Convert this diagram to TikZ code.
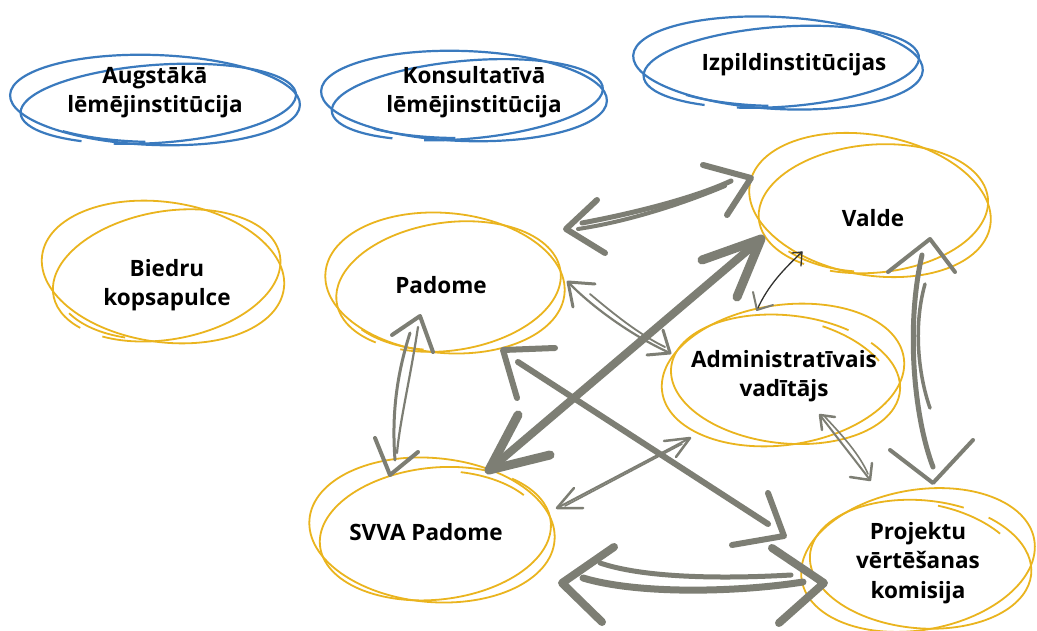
\documentclass[tikz,border=0pt]{standalone}
\usepackage{fontspec}
\setmainfont{Open Sans}
\definecolor{blu}{RGB}{58,122,190}
\definecolor{ylw}{RGB}{234,180,30}
\definecolor{gry}{RGB}{125,126,116}
\definecolor{dkg}{RGB}{50,50,48}
\newcommand\scribble[8]{%
  \pgfmathsetmacro\sra{#4-7}\pgfmathsetmacro\srb{#5-6}%
  \pgfmathsetmacro\src{#4-12}\pgfmathsetmacro\srd{#5-8}%
  \begin{scope}[shift={(#2,#3)}]
    \draw[#1,rotate=#6] (0,0) ellipse[x radius=#4pt,y radius=#5pt];
    \draw[#1,rotate=#7] ([shift={(#8:\sra pt and \srb pt)}]3,4) arc[start angle=#8,delta angle=345,x radius=\sra pt,y radius=\srb pt];
    \draw[#1,rotate=#7-4] ([shift={(#8-25:\src pt and \srd pt)}]2,5) arc[start angle=#8-25,delta angle=40,x radius=\src pt,y radius=\srd pt];
  \end{scope}}
\begin{document}
\begin{tikzpicture}[x=1pt,y=-1pt,
  lbl/.style={font=\fontsize{22.5}{29.5}\selectfont\bfseries,align=center,text=black,inner sep=0pt},
  bl/.style={draw=blu,line width=2.2pt},
  yl/.style={draw=ylw,line width=1.8pt},
  ar/.style={draw=gry,line width=#1,line cap=round,line join=round},
  dk/.style={draw=dkg,line width=1.3pt,line cap=round,line join=round}]
\fill[white] (0,0) rectangle (1037,631);
\useasboundingbox (0,0) rectangle (1037,631);

% scribbled ellipses
\scribble{bl}{155}{100}{145}{45}{-2}{4}{250}
\scribble{bl}{464}{96}{143}{45}{-2}{5}{250}
\scribble{bl}{778}{63}{145}{46}{-3}{4}{250}
\scribble{yl}{163}{272}{122}{70}{-8}{10}{230}
\scribble{yl}{445}{283}{120}{70}{-5}{8}{240}
\scribble{yl}{870}{205}{122}{70}{-10}{5}{245}
\scribble{yl}{783}{375}{122}{70}{8}{-6}{60}
\scribble{yl}{432}{530}{123}{72}{-5}{6}{60}
\scribble{yl}{918}{560}{118}{70}{10}{-5}{70}

% labels
\node[lbl] (aug) at (155,92) {Augstākā\\lēmējinstitūcija};
\node[lbl] (kons) at (474,92) {Konsultatīvā\\lēmējinstitūcija};
\node[lbl] (izp) at (794,65) {Izpildinstitūcijas};
\node[lbl] (bied) at (167,285) {Biedru\\kopsapulce};
\node[lbl] (pad) at (441,285) {Padome};
\node[lbl] (val) at (873,218) {Valde};
\node[lbl] (adm) at (784,376) {Administratīvais\\vadītājs};
\node[lbl] (svva) at (426,532) {SVVA Padome};
\node[lbl] (proj) at (918,563) {Projektu\\vērtēšanas\\komisija};

% a Padome <-> Valde
\coordinate (a1) at (566,229); \coordinate (a2) at (751,178);
\draw[ar=5] ([shift={(16,-6)}]a1) .. controls (625,215) and (690,200) .. ([shift={(-20,3)}]a2);
\draw[ar=4] ([shift={(12,0)}]a1) .. controls (625,222) and (680,205) .. ([shift={(-26,8)}]a2);
\draw[ar=6] ([shift={(31,-29)}]a1) -- (a1) -- ([shift={(39,24)}]a1);
\draw[ar=6] ([shift={(-48,-13)}]a2) -- (a2) -- ([shift={(-24,37)}]a2);

% b SVVA <-> Valde
\coordinate (b1) at (489,470); \coordinate (b2) at (761,239);
\draw[ar=8] (b1) -- (b2);
\draw[ar=9] ([shift={(29,-55)}]b1) -- (b1) -- ([shift={(61,-15)}]b1);
\draw[ar=9] ([shift={(-59,21)}]b2) -- (b2) -- ([shift={(-24,58)}]b2);

% c Padome <-> Projektu
\coordinate (c1) at (503,350); \coordinate (c2) at (784,536);
\draw[ar=6] ([shift={(15,12)}]c1) -- ([shift={(-16,-12)}]c2);
\draw[ar=6] ([shift={(52,-2)}]c1) -- (c1) -- ([shift={(14,48)}]c1);
\draw[ar=6] ([shift={(-16,-43)}]c2) -- (c2) -- ([shift={(-52,9)}]c2);

% d Padome <-> Administratīvais
\coordinate (d1) at (568,282); \coordinate (d2) at (670,353);
\draw[ar=2.2] (d1) .. controls (590,305) and (630,335) .. (d2);
\draw[ar=1.8] ([shift={(22,12)}]d1) .. controls (615,315) and (640,335) .. ([shift={(-5,-6)}]d2);
\draw[ar=3] ([shift={(27,2)}]d1) -- (d1) -- ([shift={(5,25)}]d1);
\draw[ar=3] ([shift={(-7,-23)}]d2) -- (d2) -- ([shift={(-23,2)}]d2);

% e SVVA <-> Administratīvais
\coordinate (e1) at (557,508); \coordinate (e2) at (690,438);
\draw[ar=2] (e1) -- (e2);
\draw[ar=1.6] ([shift={(8,-2)}]e1) -- ([shift={(-8,6)}]e2);
\draw[ar=2.5] ([shift={(17,-20)}]e1) -- (e1) -- ([shift={(26,0)}]e1);
\draw[ar=2.5] ([shift={(-26,3)}]e2) -- (e2) -- ([shift={(-14,19)}]e2);

% f SVVA <-> Projektu
\coordinate (f1) at (562,583); \coordinate (f2) at (824,583);
\draw[ar=7] ([shift={(21,-5)}]f1) .. controls (640,595) and (740,592) .. ([shift={(-21,-1)}]f2);
\draw[ar=5] ([shift={(38,-20)}]f1) .. controls (650,580) and (740,578) .. ([shift={(-33,-8)}]f2);
\draw[ar=8] ([shift={(52,-36)}]f1) -- (f1) -- ([shift={(40,39)}]f1);
\draw[ar=8] ([shift={(-52,-35)}]f2) -- (f2) -- ([shift={(-45,40)}]f2);

% g Valde <-> Administratīvais
\coordinate (g1) at (802,252); \coordinate (g2) at (757,310);
\draw[dk] (g1) .. controls (785,268) and (768,285) .. (g2);
\draw[dk] ([shift={(-10,1)}]g1) -- (g1) -- ([shift={(-1,14)}]g1);
\draw[dk,draw=gry,line width=2pt] ([shift={(-4,-18)}]g2) -- (g2) -- ([shift={(16,-5)}]g2);

% h Valde <-> Projektu
\coordinate (h1) at (930,239); \coordinate (h2) at (933,483);
\draw[ar=5] ([shift={(-8,16)}]h1) .. controls (905,330) and (915,420) .. ([shift={(0,-16)}]h2);
\draw[ar=3.5] ([shift={(-5,45)}]h1) .. controls (912,330) and (920,380) .. ([shift={(-3,-75)}]h2);
\draw[ar=4] ([shift={(-42,33)}]h1) -- (h1) -- ([shift={(25,33)}]h1);
\draw[ar=4] ([shift={(-43,-33)}]h2) -- (h2) -- ([shift={(40,-43)}]h2);

% i Administratīvais <-> Projektu
\coordinate (i1) at (820,415); \coordinate (i2) at (870,480);
\draw[ar=2] (i1) .. controls (835,435) and (855,460) .. (i2);
\draw[ar=1.6] ([shift={(5,2)}]i1) .. controls (842,435) and (860,455) .. ([shift={(-2,-6)}]i2);
\draw[ar=2.5] ([shift={(15,2)}]i1) -- (i1) -- ([shift={(2,15)}]i1);
\draw[ar=2.5] ([shift={(-20,-3)}]i2) -- (i2) -- ([shift={(2,-17)}]i2);

% j Padome <-> SVVA
\coordinate (j1) at (420,316); \coordinate (j2) at (390,475);
\draw[ar=3] ([shift={(-10,17)}]j1) .. controls (395,380) and (392,420) .. ([shift={(5,-15)}]j2);
\draw[ar=2.2] ([shift={(-2,11)}]j1) .. controls (410,380) and (400,420) .. ([shift={(7,-22)}]j2);
\draw[ar=4] ([shift={(-28,19)}]j1) -- (j1) -- ([shift={(13,36)}]j1);
\draw[ar=4] ([shift={(-15,-37)}]j2) -- (j2) -- ([shift={(28,-23)}]j2);
\end{tikzpicture}
\end{document}
